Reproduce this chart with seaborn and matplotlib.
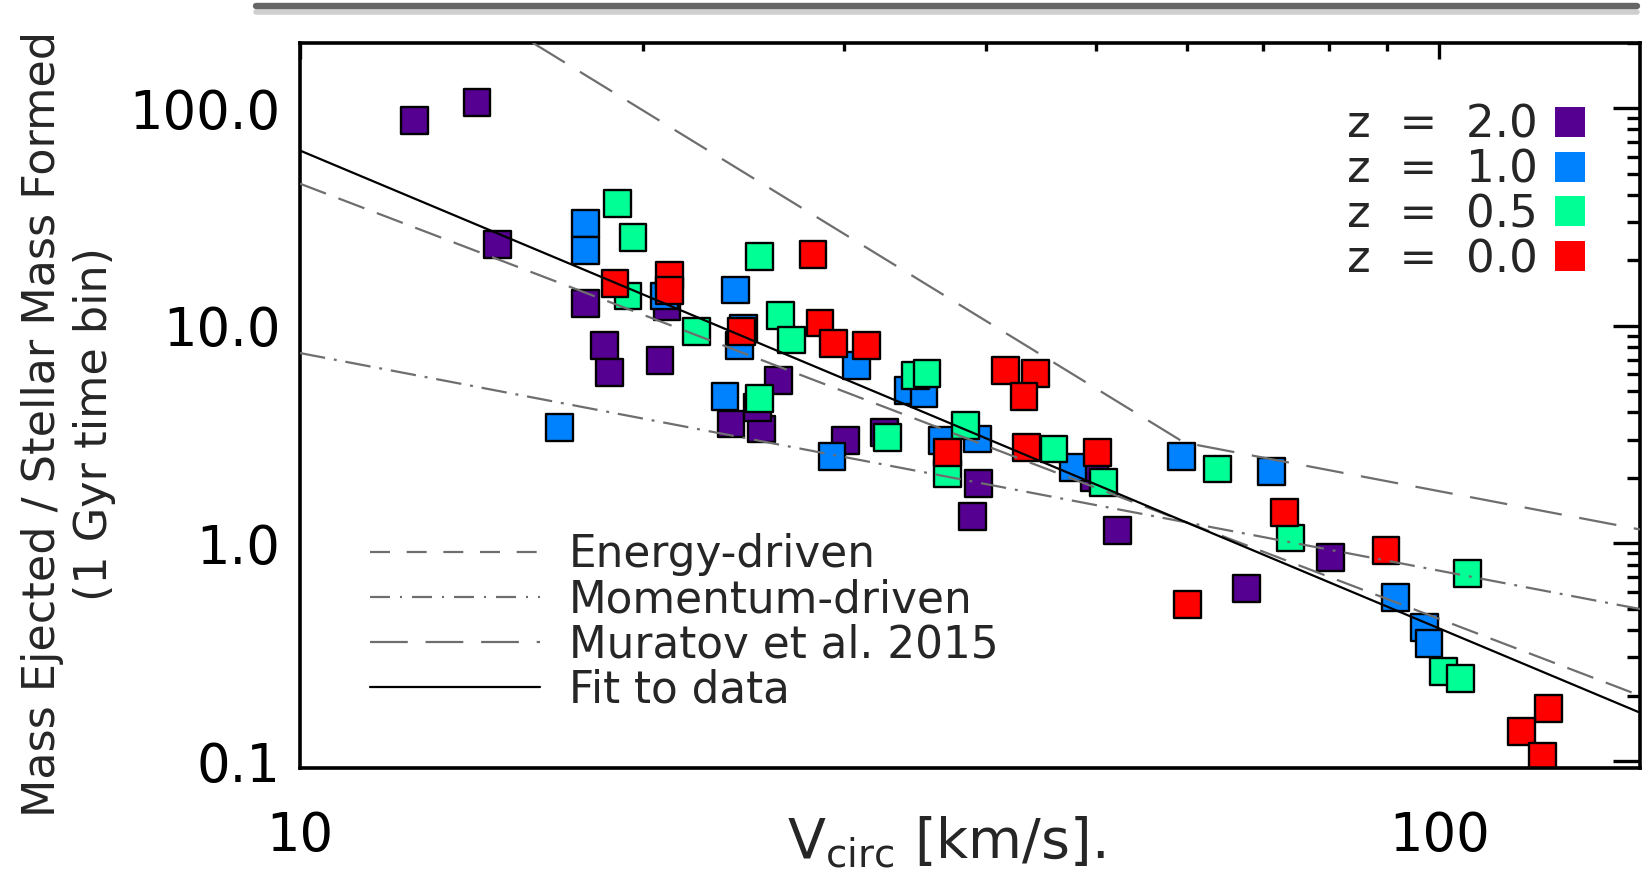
import numpy as np
import pandas as pd
import matplotlib
matplotlib.use("Agg")
import matplotlib.pyplot as plt
import seaborn as sns
from matplotlib.lines import Line2D
from matplotlib.ticker import FixedLocator, FixedFormatter, LogLocator, NullFormatter

# ---------------- data ----------------
redshift_labels = ["2.0", "1.0", "0.5", "0.0"]
redshift_colors = ["#560091", "#0082FF", "#00FF94", "#FF0000"]

vc_z20 = [12.6, 14.3, 14.9, 17.8, 21.0, 18.5, 18.7, 20.7, 26.3, 23.9,
          25.4, 25.2, 30.1, 32.6, 39.4, 38.9, 52.2, 80.3, 67.7, 49.8]
eta_z20 = [87.8, 106.0, 23.6, 12.7, 12.2, 8.12, 6.12, 6.93, 5.61, 3.54,
           3.36, 4.23, 2.97, 3.24, 1.88, 1.33, 1.146, 0.864, 0.619, 2.01]

vc_z10 = [17.8, 17.8, 20.9, 24.1, 24.5, 24.3, 30.8, 34.2, 35.3, 23.6,
          16.9, 36.6, 29.3, 39.3, 47.7, 59.4, 71.2, 91.5, 97.0, 97.9]
eta_z10 = [29.6, 22.2, 13.7, 14.6, 9.75, 8.12, 6.57, 5.04, 4.87, 4.73,
           3.40, 2.97, 2.51, 3.02, 2.24, 2.51, 2.15, 0.566, 0.412, 0.346]

vc_z05 = [19.0, 19.6, 19.4, 25.3, 22.3, 26.4, 27.0, 34.7, 35.5, 25.3,
          32.8, 38.4, 37.0, 45.9, 50.7, 63.9, 74.0, 105.8, 100.8, 104.3]
eta_z05 = [36.4, 25.5, 13.7, 20.8, 9.4, 11.15, 8.62, 5.91, 6.02, 4.62,
           3.08, 3.48, 2.10, 2.72, 1.91, 2.20, 1.06, 0.729, 0.259, 0.239]

vc_z00 = [28.2, 18.9, 21.1, 21.1, 24.4, 28.6, 29.4, 31.4, 41.6, 44.2,
          43.2, 37.0, 43.4, 50.1, 73.1, 89.8, 60.1, 124.6, 118.0, 123.2]
eta_z00 = [21.3, 15.6, 17.0, 14.5, 9.4, 10.3, 8.27, 8.12, 6.23, 6.06,
           4.75, 2.62, 2.77, 2.62, 1.39, 0.928, 0.524, 0.175, 0.137, 0.105]

# model / fit lines (end points)
energy_x = [10.0, 150.0]
energy_y = [45.0, 0.20]
momentum_x = [10.0, 150.0]
momentum_y = [7.5, 0.50]
muratov_x = [16.0, 59.7, 150.0]
muratov_y = [200.0, 2.91, 1.16]
fit_x = [10.0, 150.0]
fit_y = [63.9, 0.167]

line_labels = ["Energy-driven", "Momentum-driven", "Muratov et al. 2015", "Fit to data"]

xtick_vals = [10, 100]
xtick_text = ["10", "100"]
ytick_vals = [0.1, 1.0, 10.0, 100.0]
ytick_text = ["0.1", "1.0", "10.0", "100.0"]

# ---------------- build table ----------------
frames = []
for lab, vc, eta in zip(redshift_labels,
                        [vc_z20, vc_z10, vc_z05, vc_z00],
                        [eta_z20, eta_z10, eta_z05, eta_z00]):
    frames.append(pd.DataFrame({"vcirc": vc, "eta": eta, "z": lab}))
df = pd.concat(frames, ignore_index=True)

# ---------------- style ----------------
sns.set_style("white")
plt.rcParams["font.family"] = ["DejaVu Sans"]
plt.rcParams["mathtext.fontset"] = "dejavusans"

fig = plt.figure(figsize=(16.51, 8.90), dpi=100)
ax = fig.add_axes([300 / 1651, 1 - 768 / 890, (1640 - 300) / 1651, (768 - 42.7) / 890])

sns.scatterplot(data=df, x="vcirc", y="eta", hue="z", hue_order=redshift_labels,
                palette=redshift_colors, marker="s", s=370, edgecolor="black",
                linewidth=1.7, legend=False, ax=ax, zorder=2)

gray = "#6e6e6e"
lw = 1.6
ax.plot(energy_x, energy_y, color=gray, lw=lw, dashes=(12.5, 6), zorder=3)
ax.plot(momentum_x, momentum_y, color=gray, lw=lw, dashes=(11.5, 4, 1.3, 4), zorder=3)
ax.plot(muratov_x, muratov_y, color=gray, lw=lw, dashes=(17, 8), zorder=3)
ax.plot(fit_x, fit_y, color="black", lw=lw, zorder=3)

ax.set_xscale("log")
ax.set_yscale("log")
ax.set_xlim(10, 150)
ax.set_ylim(0.093, 200)

ax.xaxis.set_major_locator(FixedLocator(xtick_vals))
ax.xaxis.set_major_formatter(FixedFormatter(xtick_text))
ax.xaxis.set_minor_locator(LogLocator(base=10, subs=np.arange(2, 10)))
ax.xaxis.set_minor_formatter(NullFormatter())
ax.yaxis.set_major_locator(FixedLocator(ytick_vals))
ax.yaxis.set_major_formatter(FixedFormatter(ytick_text))
ax.yaxis.set_minor_locator(LogLocator(base=10, subs=np.arange(2, 10)))
ax.yaxis.set_minor_formatter(NullFormatter())

for sp in ax.spines.values():
    sp.set_linewidth(2.6)
    sp.set_color("black")

ax.tick_params(which="both", direction="in", top=True, right=True, colors="black")
ax.tick_params(axis="y", which="major", length=19.5, width=2.4, labelsize=38, pad=14)
ax.tick_params(axis="y", which="minor", length=9.5, width=2.4)
ax.tick_params(axis="x", which="major", length=11.5, width=2.4, labelsize=38, pad=30)
ax.tick_params(axis="x", which="minor", length=5.8, width=2.4)

ax.set_ylabel("Mass Ejected / Stellar Mass Formed\n(1 Gyr time bin)", fontsize=32, linespacing=1.27)
ax.yaxis.set_label_coords(-0.137, 0.474)
ax.set_xlabel(r"V$_{\mathrm{circ}}$ [km/s].", fontsize=40, ha="left", va="baseline")
ax.xaxis.set_label_coords(0.3637, -0.124)

# line legend (lower left) -- legend samples use the shorter dash pattern seen in the key
key_handles = [
    Line2D([], [], color=gray, lw=lw, dashes=(9, 7.5)),
    Line2D([], [], color=gray, lw=lw, dashes=(9, 4.5, 0.9, 4.5)),
    Line2D([], [], color=gray, lw=lw, dashes=(17, 8)),
    Line2D([], [], color="black", lw=lw),
]
leg1 = ax.legend(handles=key_handles, labels=line_labels, loc="lower left",
                 bbox_to_anchor=(0.052, 0.078), frameon=False, fontsize=31.5,
                 handlelength=3.9, handletextpad=0.65, labelspacing=0.05,
                 borderpad=0, borderaxespad=0)
ax.add_artist(leg1)

# redshift legend (upper right)
z_handles = [Line2D([], [], marker="s", color=c, linestyle="none", markersize=21,
                    markeredgewidth=0) for c in redshift_colors]
z_texts = ["z  =  " + lab for lab in redshift_labels]
leg2 = ax.legend(handles=z_handles, labels=z_texts, loc="upper right",
                 bbox_to_anchor=(0.959, 0.916), frameon=False, fontsize=32.5,
                 markerfirst=False, handlelength=0.65, handletextpad=0.4,
                 labelspacing=0.04, borderpad=0, borderaxespad=0)

# decorative bar at the top of the page
fig.add_artist(Line2D([256 / 1651, 1637 / 1651], [1 - 11.5 / 890] * 2, color="#cfcfcf", lw=4.0))
fig.add_artist(Line2D([256 / 1651, 1637 / 1651], [1 - 6 / 890] * 2, color="#666666", lw=4.6))

fig.savefig("out.png", dpi=100)
